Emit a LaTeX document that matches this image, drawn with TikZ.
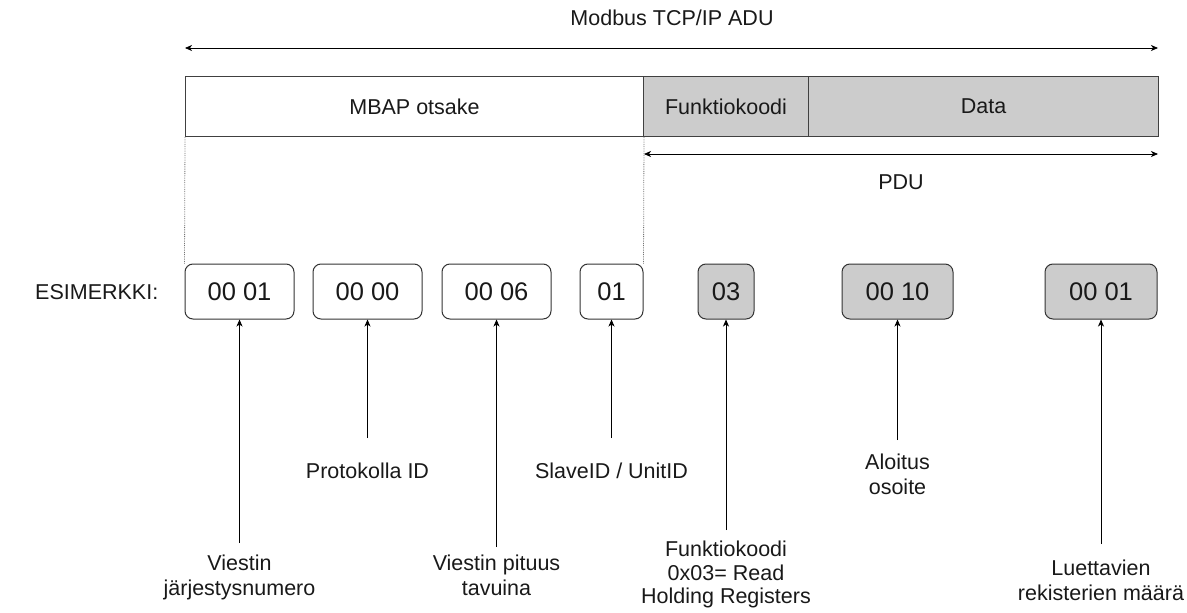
\documentclass[tikz,border=0pt]{standalone}
\usepackage{fontspec}
\setmainfont{Liberation Sans}
\usetikzlibrary{arrows.meta}
\begin{document}
\begin{tikzpicture}[x=1pt,y=-1pt,
  every node/.style={font=\fontsize{21.5}{24.5}\selectfont, text=black!90},
  hdr/.style={draw=black!75, line width=1pt, minimum height=60pt, inner sep=0pt, anchor=north west},
  ex/.style={draw=black!80, line width=1pt, rounded corners=8pt, minimum height=55pt, inner sep=0pt, font=\fontsize{25.5}{30}\selectfont},
  gr/.style={fill=black!20},
  lbl/.style={align=center, inner sep=0pt, anchor=north},
  tipa/.tip={Stealth[length=7pt,width=6pt,inset=2pt]},
  dim/.style={tipa-tipa, line width=0.8pt},
  ptr/.style={-tipa, line width=0.8pt},
  guide/.style={densely dotted, draw=black!55, line width=0.8pt}]
\useasboundingbox (0,0) rectangle (1187,613);

% title and ADU span
\node (title) at (672,18) {Modbus TCP/IP ADU};
\coordinate (adul) at (185,48);
\coordinate (adur) at (1158,48);
\draw[dim] (adul) -- (adur);

% header
\node[hdr, minimum width=458pt] (mbap) at (185,76) {MBAP otsake};
\node[hdr, gr, minimum width=165pt] (fk) at (643,76) {Funktiokoodi};
\node[hdr, gr, minimum width=350pt] (data) at (808,76) {Data};

% PDU span
\coordinate (pdul) at (644,154);
\coordinate (pdur) at (1158,154);
\draw[dim] (pdul) -- (pdur);
\node (pdu) at (901,182) {PDU};

% example
\node[anchor=west, inner sep=0pt] (esim) at (35,292) {ESIMERKKI:};
\node[ex, minimum width=109pt] (b1) at (239.5,291.5) {00 01};
\node[ex, minimum width=109pt] (b2) at (367.5,291.5) {00 00};
\node[ex, minimum width=109pt] (b3) at (496.5,291.5) {00 06};
\node[ex, minimum width=63pt] (b4) at (611.5,291.5) {01};
\node[ex, gr, minimum width=56pt] (b5) at (726,291.5) {03};
\node[ex, gr, minimum width=111pt] (b6) at (897.5,291.5) {00 10};
\node[ex, gr, minimum width=112pt] (b7) at (1101,291.5) {00 01};

% guides
\draw[guide] (mbap.south west) -- (b1.north west);
\draw[guide] (mbap.south east) -- (b4.north east);

% labels
\node[lbl] (l1) at (b1.south |- 0,555) {Viestin\\järjestysnumero};
\node[lbl] (l2) at (b2.south |- 0,463) {Protokolla ID};
\node[lbl] (l3) at (b3.south |- 0,555) {Viestin pituus\\tavuina};
\node[lbl] (l4) at (b4.south |- 0,463) {SlaveID / UnitID};
\node[lbl, font=\fontsize{21.5}{23.5}\selectfont] (l5) at (b5.south |- 0,541) {Funktiokoodi\\0x03= Read\\Holding Registers};
\node[lbl] (l6) at (b6.south |- 0,454) {Aloitus\\osoite};
\node[lbl] (l7) at (b7.south |- 0,560) {Luettavien\\rekisterien määrä};

% pointers
\draw[ptr, shorten <=12pt] (l1.north) -- (b1.south);
\draw[ptr, shorten <=25pt] (l2.north) -- (b2.south);
\draw[ptr, shorten <=8pt] (l3.north) -- (b3.south);
\draw[ptr, shorten <=25pt] (l4.north) -- (b4.south);
\draw[ptr, shorten <=11pt] (l5.north) -- (b5.south);
\draw[ptr, shorten <=14pt] (l6.north) -- (b6.south);
\draw[ptr, shorten <=16pt] (l7.north) -- (b7.south);
\end{tikzpicture}
\end{document}
